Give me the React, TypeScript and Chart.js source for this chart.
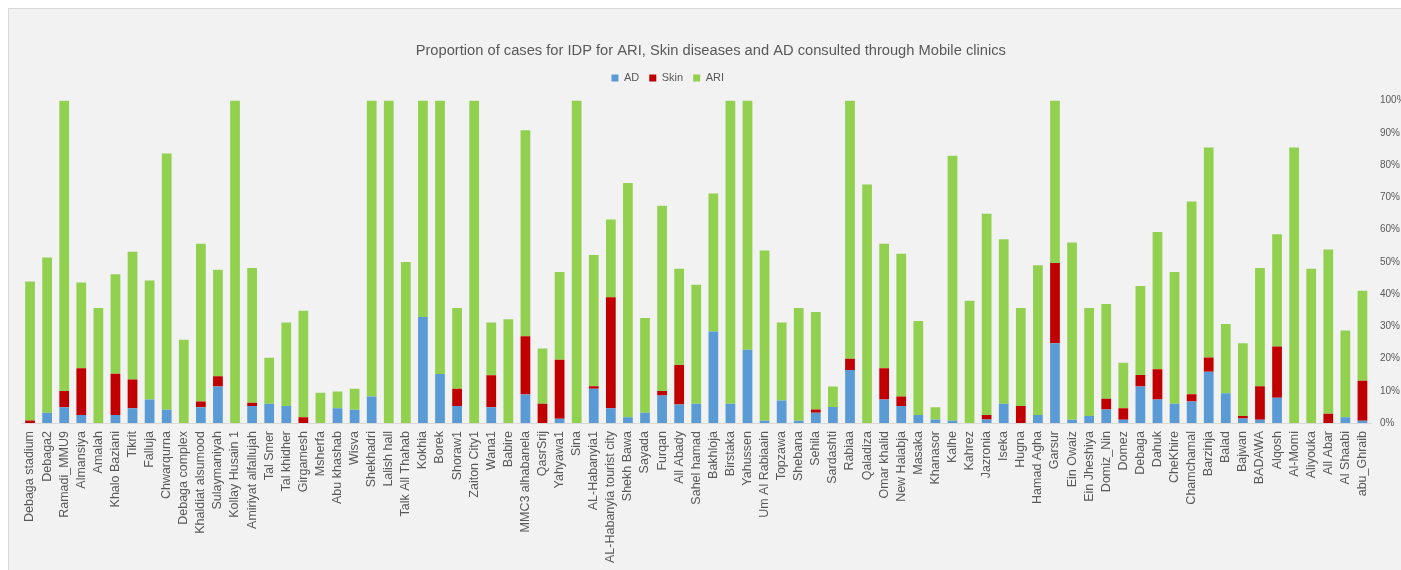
import React, { useEffect, useRef } from "react";
import { Chart, registerables } from "chart.js";

Chart.register(...registerables);

const categories = [
  "Debaga stadium", "Debaga2", "Ramadi_MMU9", "Almansiya", "Amalah", "Khalo Baziani", "Tikrit", "Falluja", "Chwarqurna", "Debaga complex",
  "Khaldiat alsumood", "Sulaymaniyah", "Kollay Husain 1", "Amiriyat alfallujah", "Tal Smer", "Tal khidher", "Girgamesh", "Msherfa", "Abu khashab", "Wisva",
  "Shekhadri", "Lalish hall", "Talk All Thahab", "Kokhia", "Borek", "Shoraw1", "Zaiton City1", "Wana1", "Babire", "MMC3 alhabanela",
  "QasrSrij", "Yahyawa1", "Sina", "AL-Habanyia1", "AL-Habanyia tourist city", "Shekh Bawa", "Sayada", "Furqan", "All Abady", "Sahel hamad",
  "Bakhloja", "Birstaka", "Yahussen", "Um Al Rabiaain", "Topzawa", "Shebana", "Sehila", "Sardashti", "Rabiaa", "Qaladiza",
  "Omar khalid", "New Halabja", "Masaka", "Khanasor", "Kalhe", "Kahrez", "Jazronia", "Iseka", "Hugna", "Hamad Agha",
  "Garsur", "Ein Owaiz", "Ein Jheshiya", "Domiz_Nin", "Domez", "Debaga", "Dahuk", "CheKhire", "Chamchamal", "Barzinja",
  "Balad", "Bajwan", "BADAWA", "Alqosh", "Al-Momi", "Aliyouka", "All Abar", "Al Shaabi", "abu_Ghraib",
];

const adValues = [
  0, 3.2, 4.9, 2.5, 0, 2.5, 4.6, 7.3, 4.1, 0, 4.9, 11.3, 0, 5.3, 6.0, 5.3, 0, 0, 4.6, 4.1,
  8.2, 0, 0, 32.9, 15.2, 5.3, 0, 4.9, 0, 8.8, 0, 1.3, 0, 10.6, 4.6, 1.8, 3.2, 8.5, 5.7, 6.0,
  28.4, 6.0, 22.7, 0.7, 7.0, 0.7, 3.2, 5.0, 16.4, 0, 7.3, 5.3, 2.5, 1.1, 0.7, 0, 1.1, 6.0, 0, 2.5,
  24.7, 1.0, 2.2, 4.2, 1.0, 11.3, 7.3, 6.0, 6.7, 15.9, 9.2, 1.4, 1.0, 7.8, 0, 0, 0, 1.8, 0.7,
];

const skinValues = [
  0.8, 0, 5.0, 14.5, 0, 12.8, 8.9, 0, 0, 0, 1.8, 3.2, 0, 1.0, 0, 0, 1.8, 0, 0, 0,
  0, 0, 0, 0, 0, 5.3, 0, 9.9, 0, 18.1, 6.0, 18.3, 0, 0.8, 34.4, 0, 0, 1.4, 12.3, 0,
  0, 0, 0, 0, 0, 0, 1.0, 0, 3.5, 0, 9.7, 2.9, 0, 0, 0, 0, 1.4, 0, 5.3, 0,
  24.9, 0, 0, 3.3, 3.6, 3.6, 9.4, 0, 2.2, 4.4, 0, 0.8, 10.4, 15.9, 0, 0, 2.9, 0, 12.4,
];

const ariValues = [
  43.1, 48.1, 90.1, 26.6, 35.7, 30.8, 39.6, 36.9, 79.5, 25.8, 48.9, 33.0, 100, 41.8, 14.2, 25.9, 33.0, 9.4, 5.2, 6.5,
  91.8, 100, 49.9, 67.1, 84.8, 25.1, 100, 16.4, 32.2, 63.9, 17.1, 27.2, 100, 40.7, 24.1, 72.6, 29.4, 57.5, 29.8, 36.9,
  42.8, 94.0, 77.3, 52.8, 24.2, 35.0, 30.2, 6.3, 80.1, 74.0, 38.6, 44.3, 29.1, 3.8, 82.2, 37.9, 62.4, 51.0, 30.4, 46.4,
  50.4, 55.0, 33.5, 29.4, 14.1, 27.6, 42.5, 40.8, 59.8, 65.1, 21.5, 22.5, 36.7, 34.8, 85.4, 47.8, 50.9, 26.9, 27.9,
];

const seriesNames = ["AD", "Skin", "ARI"];
const seriesColors = ["#5b9bd5", "#c00000", "#92d050"];
const titleText = "Proportion of cases for IDP for ARI, Skin diseases and AD consulted through Mobile clinics";

const FONT = "'Liberation Sans', Arial, sans-serif";
const TEXT = "#595959";

export default function App() {
  const ref = useRef<HTMLCanvasElement | null>(null);

  useEffect(() => {
    document.documentElement.style.overflow = "hidden";
    if (!ref.current) return;

    const shiftPlugin = {
      id: "shiftBoxes",
      afterLayout(chart: any) {
        const lg = chart.legend;
        if (lg) {
          const dx = -47;
          const dy = -7;
          lg.left += dx;
          lg.right += dx;
          lg.top += dy;
          lg.bottom += dy;
        }
        const t = chart.titleBlock;
        if (t) {
          const dx = -4;
          t.left += dx;
          t.right += dx;
        }
      },
    };

    const chart = new Chart(ref.current, {
      type: "bar",
      data: {
        labels: categories,
        datasets: [adValues, skinValues, ariValues].map((d, i) => ({
          label: seriesNames[i],
          data: d,
          backgroundColor: seriesColors[i],
          borderWidth: 0,
        })),
      },
      options: {
        animation: false,
        responsive: true,
        maintainAspectRatio: false,
        datasets: { bar: { barPercentage: 0.57, categoryPercentage: 1 } },
        layout: { padding: { top: 0, left: 12.5, right: 0, bottom: 0 } },
        plugins: {
          title: {
            display: true,
            text: titleText,
            color: TEXT,
            font: { family: FONT, size: 14.7, weight: "normal" },
            padding: { top: 33.2, bottom: 9.7 },
          },
          legend: {
            display: true,
            labels: {
              boxWidth: 7,
              boxHeight: 7,
              color: TEXT,
              font: { family: FONT, size: 11 },
              padding: 10,
            },
          },
          tooltip: { enabled: false },
        },
        scales: {
          x: {
            stacked: true,
            grid: { display: false, drawTicks: false },
            border: { display: true, color: "#d9d9d9" },
            ticks: {
              autoSkip: false,
              minRotation: 90,
              maxRotation: 90,
              padding: 8,
              color: TEXT,
              font: { family: FONT, size: 12.5 },
            },
            afterFit(s: any) {
              s.height = 147;
            },
          },
          y: {
            stacked: true,
            position: "right",
            min: 0,
            max: 100,
            grid: { display: false, drawTicks: false },
            border: { display: false },
            ticks: {
              stepSize: 10,
              padding: 9,
              color: TEXT,
              font: { family: FONT, size: 10 },
              callback: (v: any) => v + "%",
            },
            afterFit(s: any) {
              s.width = 37;
            },
          },
        },
      },
      plugins: [shiftPlugin],
    } as any);

    return () => chart.destroy();
  }, []);

  return (
    <div
      style={{
        position: "fixed",
        left: 8,
        top: 8,
        width: 1400,
        height: 562,
        boxSizing: "border-box",
        borderTop: "1px solid #d9d9d9",
        borderLeft: "1px solid #d9d9d9",
        background: "#f2f2f2",
      }}
    >
      <div style={{ width: 1399, height: 561, position: "relative" }}>
        <canvas ref={ref} />
      </div>
    </div>
  );
}
